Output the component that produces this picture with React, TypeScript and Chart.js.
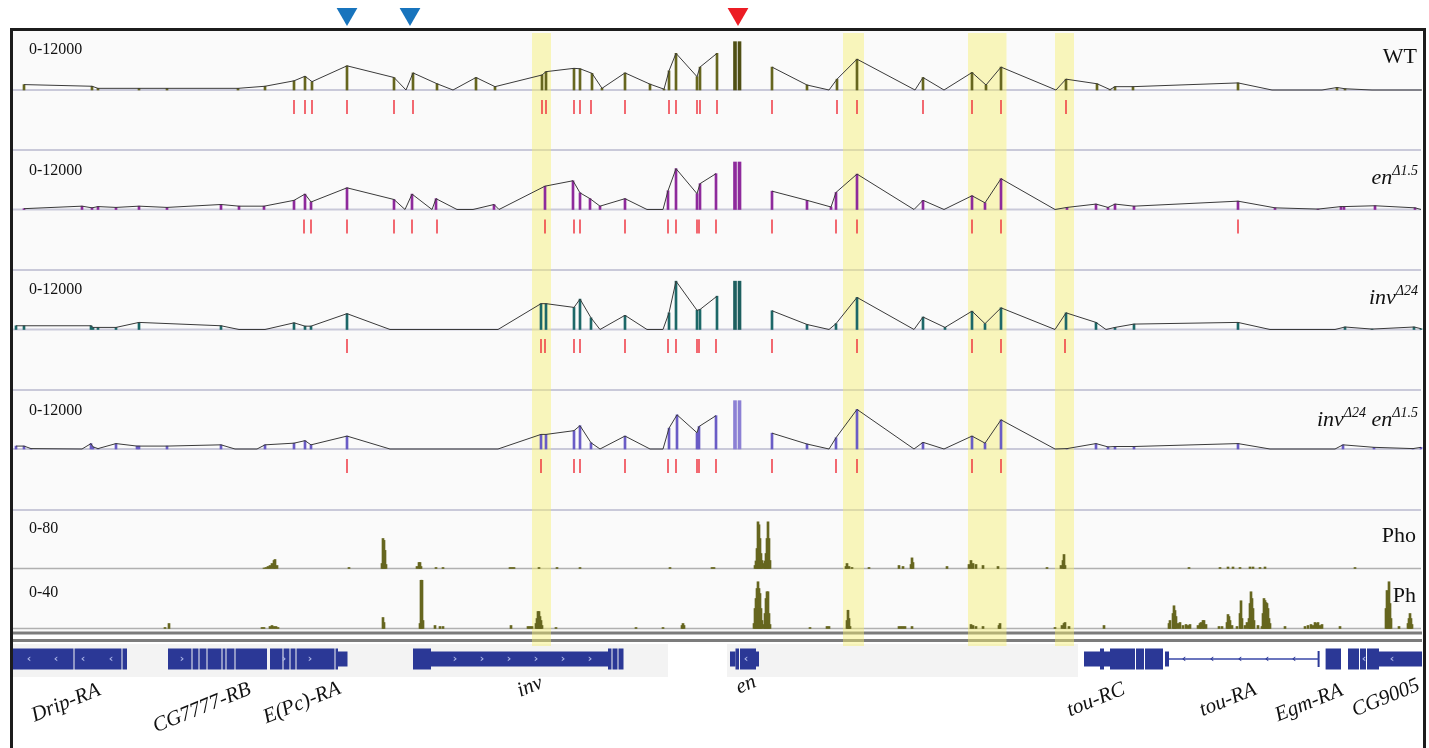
import React, { useEffect, useRef } from 'react';
import { Chart, registerables } from 'chart.js';

Chart.register(...registerables);

const W = 1429;
const H = 748;

type P = [number, number | null];

// ---------- DATA (genomic position in 100 bp units across the locus, read counts) ----------
const wtProfile: P[] = [
  [24, 1300], [92, 900], [98, 400], [139, 400], [167, 400], [238, 400], [265, 900], [294, 2200], [305, 3300], [312, 2000],
  [347, 5800], [394, 3000], [406, 0], [413, 4100], [437, 1500], [453, 0], [476, 3000], [495, 800], [542, 3600], [546, 4400],
  [574, 5200], [580, 5100], [592, 4000], [602, 400], [625, 4100], [650, 1400], [664, 200], [669, 4600], [676, 8800], [697, 3200],
  [700, 5500], [717, 8800], [726, null], [772, 5500], [807, 1200], [829, 0], [837, 2600], [857, 7400], [915, 0], [923, 3000],
  [944, 0], [972, 4200], [986, 1200], [1001, 5500], [1056, 0], [1066, 2600], [1097, 1500], [1110, 100], [1115, 800], [1133, 800],
  [1238, 1700], [1272, 0], [1322, 0], [1337, 600], [1345, 300], [1372, 0], [1422, 0],
];
const enProfile: P[] = [
  [24, 200], [82, 800], [92, 400], [98, 700], [116, 500], [139, 800], [167, 500], [221, 1200], [239, 800], [264, 800],
  [294, 2200], [305, 3700], [311, 1800], [347, 5200], [394, 2400], [405, 0], [412, 3700], [432, 0], [436, 2600], [457, 0],
  [473, 0], [494, 1200], [499, 0], [545, 5600], [573, 6900], [580, 4000], [590, 2600], [600, 800], [625, 2600], [647, 0],
  [663, 0], [668, 4500], [676, 9800], [697, 3800], [700, 6200], [716, 8600], [726, null], [772, 4400], [807, 2200], [831, 600],
  [836, 4100], [857, 8500], [914, 0], [923, 2200], [944, 0], [972, 3300], [985, 1600], [1001, 7400], [1055, 0], [1067, 500],
  [1096, 1300], [1108, 500], [1115, 1300], [1134, 800], [1238, 2000], [1275, 400], [1318, 100], [1341, 700], [1344, 700],
  [1375, 900], [1415, 400], [1421, 0],
];
const invProfile: P[] = [
  [16, 900], [24, 900], [91, 900], [93, 500], [98, 500], [116, 500], [139, 1700], [221, 900], [239, 0], [265, 0],
  [294, 1600], [305, 800], [311, 800], [347, 3800], [390, 0], [498, 0], [541, 6200], [546, 6200], [574, 5300], [580, 7300],
  [591, 2800], [600, 0], [625, 3400], [647, 0], [663, 0], [669, 4000], [676, 11600], [697, 4600], [700, 4800], [717, 8000],
  [726, null], [772, 4500], [807, 1200], [829, 0], [836, 1400], [857, 7700], [914, 0], [923, 3000], [945, 500], [972, 4400],
  [985, 1400], [1001, 5200], [1055, 0], [1066, 4000], [1096, 1700], [1106, 0], [1115, 500], [1134, 1300], [1238, 1700],
  [1270, 0], [1335, 0], [1345, 600], [1372, 100], [1414, 600], [1421, 200],
];
const invEnProfile: P[] = [
  [16, 700], [24, 700], [31, 100], [82, 0], [91, 1300], [93, 500], [98, 100], [116, 1300], [137, 700], [139, 700],
  [167, 700], [221, 1000], [235, 0], [257, 0], [265, 1000], [294, 1400], [305, 2000], [311, 1000], [347, 3100], [390, 0],
  [498, 0], [541, 3500], [546, 3500], [574, 4400], [580, 5600], [591, 1500], [600, 0], [625, 3100], [650, 0], [663, 0],
  [669, 5000], [677, 8200], [697, 3900], [699, 5400], [716, 8000], [726, null], [772, 3800], [807, 1200], [829, 0], [836, 2700],
  [857, 9500], [914, 0], [923, 1600], [944, 0], [972, 3100], [985, 1400], [1001, 7000], [1055, 0], [1067, 100], [1096, 1300],
  [1108, 500], [1115, 600], [1134, 600], [1238, 1300], [1270, 0], [1335, 0], [1343, 1000], [1374, 400], [1413, 100], [1421, 400],
];

// en exon coverage (two exon blocks)
const enExonPos = [735, 739.5];
const wtEnExon = [11600, 11600];
const enEnExon = [11400, 11400];
const invEnExon = [11600, 11600];
const invEnEnExon = [11600, 11600];

// splice junction marks
const wtJunctions = [294, 305, 312, 347, 394, 413, 542, 546, 574, 580, 591, 625, 669, 676, 697, 700, 717, 772, 837, 857, 923, 972, 1001, 1066];
const enJunctions = [304, 311, 347, 394, 412, 437, 545, 574, 580, 625, 668, 676, 697, 699, 716, 772, 836, 857, 972, 1001, 1238];
const invJunctions = [347, 541, 545, 574, 580, 625, 668, 676, 697, 699, 716, 772, 857, 972, 1001, 1065];
const invEnJunctions = [347, 541, 574, 580, 625, 668, 676, 697, 699, 716, 772, 836, 857, 972, 1001];

// ChIP signal
const phoSignal: P[] = [
  [264, 0.8], [266, 1.6], [268, 3.2], [270, 4.8], [272, 8], [274, 12.8], [275, 14.4], [277, 4.8], [349, 1.6], [382, 8],
  [383, 48], [384, 45], [385, 29], [386, 6.4], [417, 3.2], [419, 9.6], [420, 9.6], [421, 3.2], [436, 1.6], [443, 1.6],
  [510, 1.6], [512, 1.6], [514, 1.6], [539, 1.6], [557, 1.6], [580, 1.6], [670, 1.6], [712, 1.6], [714, 1.6], [755, 4.8],
  [756, 12], [757, 32], [758, 74.7], [759, 70], [760, 48], [761, 24], [762, 12.8], [764, 8], [765, 12], [766, 24], [767, 48],
  [768, 74.7], [769, 48], [770, 12.8], [846, 3.2], [847, 8], [849, 3.2], [852, 1.6], [869, 1.6], [899, 4.8], [903, 3.2],
  [911, 6.4], [912, 17], [913, 9.6], [947, 3.2], [969, 6.4], [971, 12.8], [973, 8], [976, 6.4], [983, 4.8], [998, 3.2],
  [1047, 1.6], [1061, 4.8], [1063, 12.8], [1064, 22.4], [1065, 4.8], [1189, 1.6], [1220, 1.6], [1228, 2.4], [1233, 2.4],
  [1240, 1.6], [1250, 2.4], [1253, 2.4], [1260, 1.6], [1265, 2.4], [1355, 1.6],
];
const phSignal: P[] = [
  [165, 0.8], [169, 4], [262, 0.8], [264, 0.8], [270, 1.6], [272, 2.4], [274, 1.6], [276, 1.6], [278, 0.8], [383, 8.8],
  [384, 4.8], [420, 4], [421, 38.6], [422, 38.6], [423, 6.4], [435, 2.4], [440, 1.6], [443, 1.6], [511, 2.4], [528, 1.6],
  [530, 1.6], [532, 1.6], [536, 4], [537, 8], [538, 13.6], [539, 13.6], [540, 9.6], [541, 6.4], [542, 2.4], [556, 0.8],
  [636, 0.8], [663, 0.8], [682, 2.4], [683, 4], [684, 2.4], [754, 4], [755, 16], [756, 24], [757, 32], [758, 37.4],
  [759, 32], [760, 28], [761, 16], [762, 6.4], [764, 3.2], [765, 12], [766, 24], [767, 29.4], [768, 29.4], [769, 12],
  [770, 3.2], [810, 0.8], [827, 1.6], [829, 1.6], [847, 6.4], [848, 14.6], [849, 8], [850, 1.6], [899, 1.6], [901, 1.6],
  [903, 1.6], [905, 1.6], [912, 1.6], [971, 3.2], [973, 2.4], [976, 1.6], [983, 1.6], [999, 2.4], [1000, 4], [1055, 0.8],
  [1062, 2.4], [1064, 4], [1065, 4.8], [1069, 1.6], [1104, 2.4], [1169, 4], [1170, 6.4], [1173, 12], [1174, 18.2],
  [1175, 14.4], [1176, 9.6], [1178, 4], [1180, 4.8], [1183, 2.4], [1186, 3.2], [1188, 2.4], [1190, 3.2], [1198, 2.4],
  [1200, 4], [1201, 4.8], [1203, 6.4], [1204, 6.4], [1206, 3.2], [1219, 1.6], [1222, 1.6], [1227, 4.8], [1228, 11.2],
  [1229, 9.6], [1230, 6.4], [1232, 2.4], [1237, 1.6], [1240, 12], [1241, 22.2], [1242, 8], [1245, 2.4], [1247, 4.8],
  [1249, 8], [1250, 20], [1251, 29.4], [1252, 24], [1253, 16], [1254, 6.4], [1258, 2.4], [1262, 1.6], [1263, 12],
  [1264, 24], [1265, 22.4], [1266, 20.8], [1267, 20], [1268, 16], [1269, 8], [1270, 4], [1285, 1.6], [1305, 1.6],
  [1308, 2.4], [1311, 3.2], [1313, 2.4], [1315, 4.8], [1317, 4], [1318, 4.8], [1320, 2.4], [1322, 3.2], [1340, 1.6],
  [1386, 16], [1387, 30.4], [1388, 24], [1389, 37.4], [1390, 20], [1391, 8], [1399, 1.6], [1408, 4], [1409, 8],
  [1410, 12], [1411, 8], [1412, 3.2],
];

// gene models
const exonThick: [number, number][] = [
  [13, 73.5], [74.5, 121.5], [122.5, 127],
  [168, 191.5], [192.5, 198.5], [199.5, 206.5], [207.5, 221.5], [222.5, 225.5], [226.5, 234.5], [235.5, 267],
  [270, 282.5], [283.5, 289.5], [290.5, 295.5], [296.5, 334.5], [335.5, 338],
  [413, 431], [608, 611.5], [612.5, 617.5], [618.5, 623.5],
  [735.5, 739], [740, 756],
  [1100, 1104], [1110, 1135], [1136, 1144], [1145, 1163],
  [1325.6, 1341],
  [1348, 1359], [1360, 1366], [1367, 1379],
];
const exonThin: [number, number][] = [
  [338, 347.5], [431, 608], [730, 735.5], [756, 759], [1084, 1100], [1104, 1110], [1165, 1169], [1379, 1422],
];
const introns: [number, number][] = [[1169, 1318.6]];
const intronEnds = [1318.6];
const chevLeftOnExon = [29, 56, 83, 111, 746, 1364, 1392];
const chevRightOnExon = [182, 284, 310, 455, 482, 509, 536, 563, 590];
const chevLeftIntron = [1184, 1212, 1240, 1267, 1294];
const geneNames = ['Drip-RA', 'CG7777-RB', 'E(Pc)-RA', 'inv', 'en', 'tou-RC', 'tou-RA', 'Egm-RA', 'CG9005'];
const geneLabelPos = [66, 202, 302, 530, 746, 1096, 1228, 1309, 1386];

// highlighted regions and mutation arrows
const highlights: [number, number][] = [[532, 551], [843, 864], [968, 1006.5], [1055, 1074]];
const blueArrows = [347, 410];
const redArrows = [738];

// ---------- LAYOUT ----------
const TR = {
  wt: { base: 90, junc: 107 },
  en: { base: 209.5, junc: 226.5 },
  inv: { base: 329.5, junc: 346 },
  ie: { base: 449, junc: 466 },
};
const COV_MAX = 12000;
const COV_PX = 50;
const GENE_Y = 659;
const ARROW_Y = 14;

function bandAxis(base: number, px: number, vmax: number) {
  const k = vmax / px;
  return { type: 'linear' as const, display: false, min: (base - H) * k, max: base * k };
}

const SERIF = '"Liberation Serif", "Times New Roman", serif';

function pairs(p: P[]) {
  return p.map(([x, y]) => ({ x, y }));
}

function covDatasets(profile: P[], exon: number[], axis: string, barColor: string, exonColor: string, junc: number[], juncY: number) {
  return [
    {
      type: 'line', yAxisID: axis, data: pairs(profile), borderColor: '#3a3a3a', borderWidth: 1,
      pointRadius: 0, spanGaps: false, order: 0, tension: 0,
    },
    {
      type: 'bar', yAxisID: axis, data: pairs(profile.filter(([, v]) => v !== null && (v as number) > 0)),
      backgroundColor: barColor, barThickness: 2, grouped: false, order: 2,
    },
    {
      type: 'bar', yAxisID: axis, data: enExonPos.map((x, i) => ({ x, y: exon[i] })),
      backgroundColor: exonColor, barThickness: 3, grouped: false, order: 2,
    },
    {
      type: 'scatter', yAxisID: 'lane', data: junc.map((x) => ({ x, y: juncY })),
      pointStyle: 'line', pointRotation: 90, pointRadius: 7, pointBorderColor: '#ee2a36', pointBorderWidth: 1.4,
      pointBackgroundColor: '#ee2a36', order: 1,
    },
  ];
}

function segData(segs: [number, number][]) {
  const out: { x: number; y: number | null }[] = [];
  segs.forEach(([a, b]) => {
    out.push({ x: a, y: GENE_Y }, { x: b, y: GENE_Y }, { x: b, y: null });
  });
  return out;
}

function drawRich(ctx: CanvasRenderingContext2D, parts: { t: string; sup?: boolean; it?: boolean }[], right: number, base: number, size: number) {
  const f = (p: { t: string; sup?: boolean; it?: boolean }) => `${p.it ? 'italic ' : ''}${p.sup ? Math.round(size * 0.64) : size}px ${SERIF}`;
  let total = 0;
  parts.forEach((p) => { ctx.font = f(p); total += ctx.measureText(p.t).width; });
  let x = right - total;
  parts.forEach((p) => {
    ctx.font = f(p);
    ctx.fillText(p.t, x, p.sup ? base - size * 0.42 : base);
    x += ctx.measureText(p.t).width;
  });
}

const decor = {
  id: 'decor',
  beforeDatasetsDraw(chart: any) {
    const ctx: CanvasRenderingContext2D = chart.ctx;
    const xs = chart.scales.x;
    const px = (v: number) => xs.getPixelForValue(v);
    ctx.save();
    ctx.fillStyle = '#ffffff';
    ctx.fillRect(0, 0, W, H);
    ctx.fillStyle = '#fafafa';
    ctx.fillRect(12, 31, 1410, 600);
    ctx.fillStyle = '#f3f3f3';
    ctx.fillRect(12, 644, px(668) - 12, 33);
    ctx.fillRect(px(727), 644, px(1078) - px(727), 33);
    // separators & baselines
    ctx.strokeStyle = '#c9c9d9';
    ctx.lineWidth = 2;
    [150, 270, 390, 510, TR.wt.base, TR.en.base, TR.inv.base, TR.ie.base].forEach((y) => {
      ctx.beginPath(); ctx.moveTo(12, y); ctx.lineTo(1421, y); ctx.stroke();
    });
    ctx.strokeStyle = '#b0b0b0';
    ctx.lineWidth = 1.5;
    [568.5, 628.5].forEach((y) => { ctx.beginPath(); ctx.moveTo(12, y); ctx.lineTo(1421, y); ctx.stroke(); });
    ctx.strokeStyle = '#7c7c7c';
    ctx.lineWidth = 3;
    [633, 640.5].forEach((y) => { ctx.beginPath(); ctx.moveTo(12, y); ctx.lineTo(1422, y); ctx.stroke(); });
    // highlight bands
    ctx.fillStyle = 'rgba(246, 240, 110, 0.45)';
    highlights.forEach(([a, b]) => ctx.fillRect(px(a), 33, px(b) - px(a), 613));
    ctx.restore();
  },
  afterDatasetsDraw(chart: any) {
    const ctx: CanvasRenderingContext2D = chart.ctx;
    const xs = chart.scales.x;
    const px = (v: number) => xs.getPixelForValue(v);
    ctx.save();
    // chevrons
    ctx.textAlign = 'center';
    ctx.textBaseline = 'middle';
    ctx.font = `bold 11px "DejaVu Sans", sans-serif`;
    ctx.fillStyle = '#aab4e6';
    chevLeftOnExon.forEach((x) => ctx.fillText('‹', px(x), GENE_Y));
    chevRightOnExon.forEach((x) => ctx.fillText('›', px(x), GENE_Y));
    ctx.fillStyle = '#2b3896';
    chevLeftIntron.forEach((x) => ctx.fillText('‹', px(x), GENE_Y));
    // frame
    ctx.strokeStyle = '#1c1c1c';
    ctx.lineWidth = 3;
    ctx.strokeRect(11.5, 29.5, 1413, 740);
    // range labels
    ctx.fillStyle = '#111';
    ctx.textAlign = 'left';
    ctx.textBaseline = 'alphabetic';
    ctx.font = `16px ${SERIF}`;
    [[54, '0-12000'], [175, '0-12000'], [294, '0-12000'], [415, '0-12000'], [533, '0-80'], [597, '0-40']].forEach(([y, t]) => {
      ctx.fillText(t as string, 29, y as number);
    });
    // track names
    drawRich(ctx, [{ t: 'WT' }], 1417, 63, 22);
    drawRich(ctx, [{ t: 'en', it: true }, { t: 'Δ1.5', it: true, sup: true }], 1418, 184, 22);
    drawRich(ctx, [{ t: 'inv', it: true }, { t: 'Δ24', it: true, sup: true }], 1418, 304, 22);
    drawRich(ctx, [{ t: 'inv', it: true }, { t: 'Δ24', it: true, sup: true }, { t: ' en', it: true }, { t: 'Δ1.5', it: true, sup: true }], 1418, 426, 22);
    drawRich(ctx, [{ t: 'Pho' }], 1416, 542, 22);
    drawRich(ctx, [{ t: 'Ph' }], 1416, 602, 22);
    // gene names
    const labelY = [703, 708, 703, 687, 685, 700, 700, 703, 698];
    ctx.font = `italic 21px ${SERIF}`;
    ctx.textAlign = 'center';
    ctx.textBaseline = 'middle';
    geneNames.forEach((name, i) => {
      ctx.save();
      ctx.translate(px(geneLabelPos[i]), labelY[i]);
      ctx.rotate((-22 * Math.PI) / 180);
      ctx.fillText(name, 0, 0);
      ctx.restore();
    });
    ctx.restore();
  },
};

export default function App() {
  const ref = useRef<HTMLCanvasElement>(null);
  useEffect(() => {
    const canvas = ref.current;
    if (!canvas) return;
    const datasets: any[] = [
      ...covDatasets(wtProfile, wtEnExon, 'yWT', '#66661f', '#4f4f14', wtJunctions, TR.wt.junc),
      ...covDatasets(enProfile, enEnExon, 'yEN', '#8e2a9c', '#8e2a9c', enJunctions, TR.en.junc),
      ...covDatasets(invProfile, invEnExon, 'yINV', '#1d6868', '#1d5f5f', invJunctions, TR.inv.junc),
      ...covDatasets(invEnProfile, invEnEnExon, 'yIE', '#6a5cc6', '#8c80d4', invEnJunctions, TR.ie.junc),
      {
        type: 'bar', yAxisID: 'yPHO', data: pairs(phoSignal), backgroundColor: '#66661f', barThickness: 2, grouped: false, order: 2,
      },
      {
        type: 'bar', yAxisID: 'yPH', data: pairs(phSignal), backgroundColor: '#66661f', barThickness: 2, grouped: false, order: 2,
      },
      {
        type: 'line', yAxisID: 'lane', data: segData(introns), borderColor: '#3a48a8', borderWidth: 1.5,
        pointRadius: 0, spanGaps: false, borderCapStyle: 'butt', order: 3,
      },
      {
        type: 'line', yAxisID: 'lane', data: segData(exonThin), borderColor: '#2b3896', borderWidth: 15,
        pointRadius: 0, spanGaps: false, borderCapStyle: 'butt', order: 3,
      },
      {
        type: 'line', yAxisID: 'lane', data: segData(exonThick), borderColor: '#2b3896', borderWidth: 21,
        pointRadius: 0, spanGaps: false, borderCapStyle: 'butt', order: 3,
      },
      {
        type: 'scatter', yAxisID: 'lane', data: intronEnds.map((x) => ({ x, y: GENE_Y })),
        pointStyle: 'line', pointRotation: 90, pointRadius: 8, pointBorderColor: '#2b3896', pointBorderWidth: 2, order: 3,
      },
      {
        type: 'scatter', yAxisID: 'lane', data: blueArrows.map((x) => ({ x, y: ARROW_Y })),
        pointStyle: 'triangle', pointRotation: 180, pointRadius: 12, pointBackgroundColor: '#1874bd', pointBorderWidth: 0, order: 1,
      },
      {
        type: 'scatter', yAxisID: 'lane', data: redArrows.map((x) => ({ x, y: ARROW_Y })),
        pointStyle: 'triangle', pointRotation: 180, pointRadius: 12, pointBackgroundColor: '#ec1c24', pointBorderWidth: 0, order: 1,
      },
    ];
    const chart = new Chart(canvas, {
      type: 'bar',
      data: { datasets },
      options: {
        responsive: false,
        animation: false,
        events: [],
        layout: { padding: 0, autoPadding: false },
        plugins: { legend: { display: false }, tooltip: { enabled: false }, title: { display: false } },
        scales: {
          x: { type: 'linear', display: false, min: 0, max: W, offset: false, grid: { offset: false } },
          lane: { type: 'linear', display: false, min: 0, max: H, reverse: true },
          yWT: bandAxis(TR.wt.base, COV_PX, COV_MAX),
          yEN: bandAxis(TR.en.base, COV_PX, COV_MAX),
          yINV: bandAxis(TR.inv.base, COV_PX, COV_MAX),
          yIE: bandAxis(TR.ie.base, COV_PX, COV_MAX),
          yPHO: bandAxis(568.5, 50, 80),
          yPH: bandAxis(628.5, 50, 40),
          y: { display: false },
        },
      } as any,
      plugins: [decor],
    } as any);
    return () => chart.destroy();
  }, []);
  return (
    <div style={{ position: 'fixed', left: 0, top: 0, width: W, height: H, background: '#fff' }}>
      <canvas ref={ref} width={W} height={H} style={{ width: W, height: H, display: 'block' }} />
    </div>
  );
}
